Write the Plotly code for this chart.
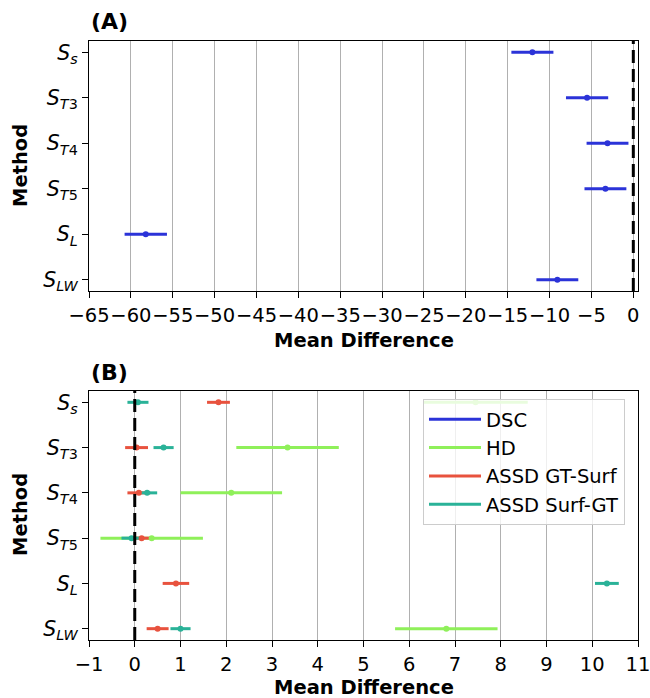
import plotly.graph_objects as go
from plotly.subplots import make_subplots

# ---------------- data ----------------
method_labels = [
    "<i>S</i><sub><i>s</i></sub>",
    "<i>S</i><sub><i>T</i>3</sub>",
    "<i>S</i><sub><i>T</i>4</sub>",
    "<i>S</i><sub><i>T</i>5</sub>",
    "<i>S</i><sub><i>L</i></sub>",
    "<i>S</i><sub><i>LW</i></sub>",
]
method_pos = [0, 1, 2, 3, 4, 5]

dsc_mean = [-12.05, -5.52, -3.08, -3.33, -58.22, -9.07]
dsc_ci = [2.51, 2.52, 2.50, 2.50, 2.53, 2.50]

hd_mean = [7.45, 3.34, 2.11, 0.37, None, 6.81]
hd_ci = [1.14, 1.12, 1.11, 1.12, None, 1.12]

gts_mean = [1.83, 0.04, 0.09, 0.15, 0.90, 0.50]   # ASSD GT-Surf
gts_ci = [0.25, 0.25, 0.25, 0.25, 0.29, 0.24]

sgt_mean = [0.07, 0.63, 0.27, -0.07, 10.32, 1.00]  # ASSD Surf-GT
sgt_ci = [0.23, 0.22, 0.22, 0.22, 0.26, 0.22]

xticks_a = [-65, -60, -55, -50, -45, -40, -35, -30, -25, -20, -15, -10, -5, 0]
xticks_b = [-1, 0, 1, 2, 3, 4, 5, 6, 7, 8, 9, 10, 11]

series_names = ["DSC", "HD", "ASSD GT-Surf", "ASSD Surf-GT"]
colors = ["#2b33d8", "#8ff05a", "#e8523e", "#2ab298"]

# ---------------- figure ----------------
W, H = 650, 698
ML, MR, MT, MB = 89, 12, 41, 58
PW, PH = W - ML - MR, H - MT - MB


def px_x(px):
    return (px - ML) / PW


def px_y(py):
    return (H - MB - py) / PH


fig = make_subplots(rows=2, cols=1)


def segments(means, cis):
    xs, ys = [], []
    for y, m, c in zip(method_pos, means, cis):
        if m is None:
            continue
        xs += [m - c, m + c, None]
        ys += [y, y, None]
    return xs, ys


def points(means):
    xs, ys = [], []
    for y, m in zip(method_pos, means):
        if m is None:
            continue
        xs.append(m)
        ys.append(y)
    return xs, ys


panels = [
    (1, series_names[0], dsc_mean, dsc_ci, colors[0]),
    (2, series_names[1], hd_mean, hd_ci, colors[1]),
    (2, series_names[2], gts_mean, gts_ci, colors[2]),
    (2, series_names[3], sgt_mean, sgt_ci, colors[3]),
]

# error-bar lines first
for row, name, m, c, col in panels:
    xs, ys = segments(m, c)
    fig.add_trace(go.Scatter(x=xs, y=ys, mode="lines", name=name,
                             line=dict(color=col, width=3),
                             legendgroup=name, showlegend=True,
                             hoverinfo="skip"), row=row, col=1)
# markers on top
for row, name, m, c, col in panels:
    xs, ys = points(m)
    fig.add_trace(go.Scatter(x=xs, y=ys, mode="markers", name=name,
                             marker=dict(color=col, size=6),
                             legendgroup=name, showlegend=False),
                  row=row, col=1)

axis_common = dict(showline=True, mirror=True, linecolor="black", linewidth=1.25,
                   ticks="outside", ticklen=6, tickwidth=1.25, tickcolor="black",
                   zeroline=False, tickfont=dict(size=19.5, color="black"),
                   tickangle=0, ticklabeloverflow="allow")

fig.update_xaxes(**axis_common, showgrid=True, gridcolor="#b0b0b0", gridwidth=1.2)
fig.update_yaxes(**axis_common, showgrid=False)

fig.update_xaxes(range=[-65, 0.56], tickvals=xticks_a,
                 ticktext=[str(v).replace("-", "\u2212") for v in xticks_a], row=1, col=1)
fig.update_xaxes(range=[-1, 11.0], tickvals=xticks_b,
                 ticktext=[str(v).replace("-", "\u2212") for v in xticks_b], row=2, col=1)
fig.update_yaxes(range=[5.25, -0.25], tickvals=method_pos, ticktext=method_labels,
                 tickfont=dict(size=20.5, color="black"))

fig.update_layout(
    xaxis=dict(domain=[0, 1]), xaxis2=dict(domain=[0, 1]),
    yaxis=dict(domain=[px_y(291), 1]), yaxis2=dict(domain=[0, px_y(391)]),
)

# zero reference lines
for xr, yr in [("x", "y domain"), ("x2", "y2 domain")]:
    fig.add_shape(type="line", xref=xr, yref=yr, x0=0, x1=0, y0=0, y1=1,
                  line=dict(color="black", width=3, dash="13px,6px"), layer="above")

ann = []
title_font = dict(size=19.5, color="black", family="DejaVu Sans")
for lab, yc in [("(A)", 22), ("(B)", 372)]:
    ann.append(dict(text="<b>%s</b>" % lab, x=px_x(89), y=px_y(yc), xref="paper", yref="paper",
                    xanchor="left", yanchor="middle", showarrow=False,
                    font=dict(size=22, color="black", family="DejaVu Sans")))
for yc in [340, 687]:
    ann.append(dict(text="<b>Mean Difference</b>", x=px_x((89 + 638) / 2), y=px_y(yc),
                    xref="paper", yref="paper", xanchor="center", yanchor="middle",
                    showarrow=False, font=title_font))
for yc in [166, 515]:
    ann.append(dict(text="<b>Method</b>", x=px_x(20), y=px_y(yc), textangle=-90,
                    xref="paper", yref="paper", xanchor="center", yanchor="middle",
                    showarrow=False, font=title_font))

fig.update_layout(
    width=W, height=H,
    margin=dict(l=ML, r=MR, t=MT, b=MB, pad=0, autoexpand=False),
    paper_bgcolor="white", plot_bgcolor="white",
    font=dict(family="DejaVu Sans", color="black"),
    annotations=ann,
    showlegend=True,
    legend=dict(x=px_x(423), y=px_y(399), xanchor="left", yanchor="top",
                bgcolor="rgba(255,255,255,0.8)", bordercolor="#cccccc", borderwidth=1,
                font=dict(size=19.5, color="black"), itemwidth=52,
                traceorder="grouped", tracegroupgap=0),
)

fig.write_html("out.html", config={"displayModeBar": False},
               post_script="document.body.style.margin='0';document.body.style.overflow='hidden';")
